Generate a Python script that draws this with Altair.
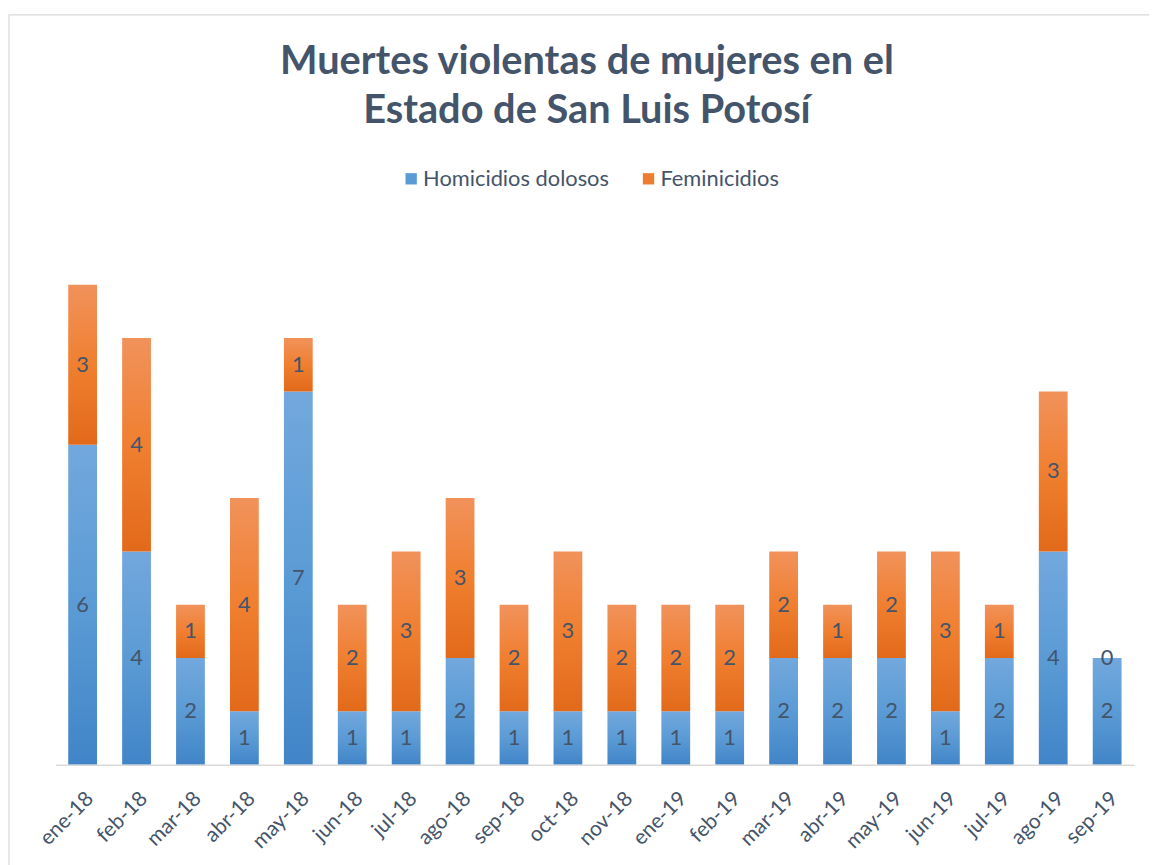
import altair as alt
import pandas as pd

meses = ["ene-18", "feb-18", "mar-18", "abr-18", "may-18", "jun-18", "jul-18",
         "ago-18", "sep-18", "oct-18", "nov-18", "ene-19", "feb-19", "mar-19",
         "abr-19", "may-19", "jun-19", "jul-19", "ago-19", "sep-19"]
homicidios = [6, 4, 2, 1, 7, 1, 1, 2, 1, 1, 1, 1, 1, 2, 2, 2, 1, 2, 4, 2]
feminicidios = [3, 4, 1, 4, 1, 2, 3, 3, 2, 3, 2, 2, 2, 2, 1, 2, 3, 1, 3, 0]
series = ["Homicidios dolosos", "Feminicidios"]
colores = ["#5b9bd5", "#ed7d31"]

df = pd.DataFrame({"mes": meses, "hom": homicidios, "fem": feminicidios})

FONT = "Lato"
TXT = "#44546A"

blue_grad = alt.Gradient(
    gradient="linear", x1=0, x2=0, y1=0, y2=1,
    stops=[alt.GradientStop(color="#72a8dd", offset=0),
           alt.GradientStop(color="#5b9bd5", offset=0.5),
           alt.GradientStop(color="#4185c8", offset=1)])
orange_grad = alt.Gradient(
    gradient="linear", x1=0, x2=0, y1=0, y2=1,
    stops=[alt.GradientStop(color="#f1925b", offset=0),
           alt.GradientStop(color="#f07f30", offset=0.5),
           alt.GradientStop(color="#e2691a", offset=1)])

x_enc = alt.X("mes:N", sort=meses, title=None,
              scale=alt.Scale(paddingInner=0.466, paddingOuter=0.233),
              axis=alt.Axis(labelAngle=-45, labelAlign="right", labelBaseline="top",
                            labelFontSize=21, labelColor=TXT, labelFont=FONT,
                            labelPadding=23, ticks=False, domainColor="#d9d9d9",
                            domainWidth=1.5, grid=False, zindex=1))
y_scale = alt.Scale(domain=[0, 10], nice=False)
y_axis = None

base = alt.Chart(df).transform_calculate(
    total="datum.hom + datum.fem",
    mid_hom="datum.hom / 2",
    mid_fem="datum.hom + datum.fem / 2",
)

frame = alt.Chart(df).mark_rect(fill="white", fillOpacity=0, stroke="#d9d9d9",
                                strokeWidth=1.2).encode(
    x=alt.value(-47), x2=alt.value(1200), y=alt.value(-218), y2=alt.value(900)
).transform_filter("datum.mes == 'ene-18'")

bars_hom = base.mark_bar(color=blue_grad).encode(
    x=x_enc,
    y=alt.Y("hom:Q", scale=y_scale, axis=y_axis, title=None),
)
bars_fem = base.mark_bar(color=orange_grad).encode(
    x=x_enc,
    y=alt.Y("hom:Q", scale=y_scale, axis=y_axis, title=None),
    y2="total:Q",
)
lab_hom = base.mark_text(font=FONT, fontSize=22, color=TXT, baseline="middle").encode(
    x=x_enc,
    y=alt.Y("mid_hom:Q", scale=y_scale, axis=y_axis),
    text="hom:Q",
)
lab_fem = base.mark_text(font=FONT, fontSize=22, color=TXT, baseline="middle").encode(
    x=x_enc,
    y=alt.Y("mid_fem:Q", scale=y_scale, axis=y_axis),
    text="fem:Q",
)

legend_df = pd.DataFrame({"serie": series})
legend_layer = alt.Chart(legend_df).mark_square(opacity=0, filled=True).encode(
    color=alt.Color("serie:N", sort=series,
                    scale=alt.Scale(domain=series, range=colores),
                    legend=alt.Legend(orient="none", direction="horizontal",
                                      legendX=347, legendY=-64, title=None,
                                      symbolType="square", symbolSize=130,
                                      symbolStrokeWidth=0, symbolOpacity=1,
                                      labelFont=FONT, labelFontSize=22,
                                      labelColor=TXT, columnPadding=28,
                                      labelOffset=1, labelLimit=0)),
)

chart = alt.layer(frame, bars_hom, bars_fem, lab_hom, lab_fem, legend_layer).properties(
    width=1086, height=537,
    title=alt.Title(["Muertes violentas de mujeres en el", "Estado de San Luis Potosí"],
                    font=FONT, fontSize=40, fontWeight="bold", color=TXT,
                    lineHeight=49, anchor="middle", offset=0, dx=-8, dy=117,
                    frame="group"),
    padding={"left": 48, "top": 222, "right": 15, "bottom": 98},
    autosize=alt.AutoSizeParams(type="none"),
).configure_view(stroke=None)

chart.save("out.html", embed_options={"renderer": "svg", "actions": False})
